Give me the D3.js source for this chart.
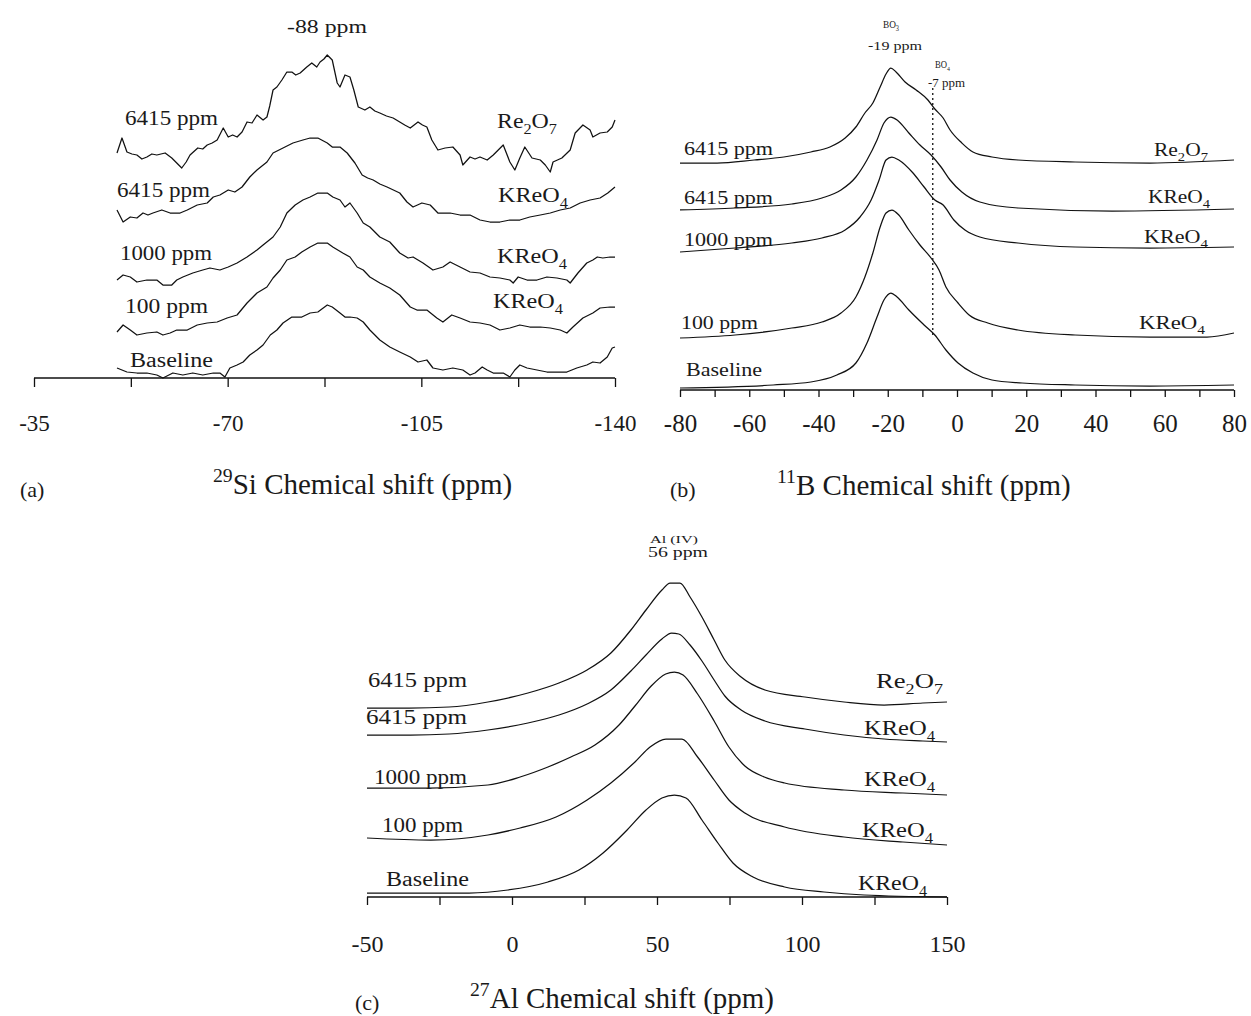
<!DOCTYPE html>
<html><head><meta charset="utf-8">
<script src="https://cdn.jsdelivr.net/npm/d3@7"></script>
<style>body{margin:0;background:#fff}svg{display:block}text{font-family:"Liberation Serif","Times New Roman",serif;fill:#1a1a1a}</style>
</head><body>
<script>
// ---------- DATA ----------
// Panel (a) 29Si spectra: [chemical shift ppm, stacked intensity a.u.]
const siRe2O7_6415 = [[-50.0,225],[-50.9,240],[-51.8,226],[-52.7,224],[-53.6,223],[-54.5,219],[-55.4,221],[-56.3,224],[-57.2,223],[-58.7,225],[-59.9,220],[-60.8,215],[-61.7,210],[-62.5,216],[-63.2,223],[-64.6,230],[-65.5,229],[-66.3,233],[-67.2,235],[-68.1,238],[-69.2,250],[-70.1,241],[-70.9,243],[-71.7,241],[-72.6,246],[-73.5,256],[-74.4,255],[-75.3,263],[-76.4,258],[-77.1,261],[-77.6,272],[-78.2,288],[-78.9,291],[-79.8,298],[-80.7,306],[-81.6,306],[-82.3,303],[-83.1,305],[-84.3,311],[-85.2,315],[-86.1,311],[-86.7,316],[-87.4,319],[-88.0,323],[-88.9,318],[-89.8,295],[-90.3,291],[-91.2,303],[-92.1,301],[-92.8,288],[-93.6,271],[-94.8,268],[-95.7,271],[-96.6,267],[-97.5,265],[-98.7,262],[-99.9,260],[-101.1,256],[-102.0,253],[-103.0,250],[-104.4,256],[-105.2,253],[-106.0,251],[-106.9,238],[-108.0,228],[-109.3,230],[-110.7,231],[-112.0,223],[-112.5,213],[-113.8,221],[-114.7,219],[-115.6,221],[-116.9,218],[-118.0,223],[-119.8,233],[-121.0,216],[-121.9,208],[-122.8,220],[-123.7,231],[-125.0,220],[-126.5,218],[-127.4,213],[-128.3,206],[-128.8,216],[-130.4,220],[-131.9,228],[-132.8,245],[-134.2,253],[-135.5,248],[-136.0,241],[-137.3,245],[-138.6,246],[-139.5,251],[-140.0,258]];
const siKReO4_6415 = [[-50.0,168],[-51.1,156],[-52.4,161],[-53.6,160],[-54.7,165],[-55.6,163],[-56.5,165],[-58.1,168],[-59.6,165],[-61.4,165],[-62.7,168],[-64.5,173],[-66.3,175],[-67.4,181],[-68.6,183],[-70.1,188],[-71.3,186],[-72.6,191],[-74.0,201],[-75.3,208],[-77.1,216],[-78.2,225],[-80.0,230],[-81.8,235],[-83.6,238],[-84.9,240],[-86.3,240],[-88.0,235],[-88.9,231],[-90.3,231],[-91.6,225],[-93.0,215],[-94.3,203],[-95.3,200],[-96.3,198],[-97.5,194],[-98.8,191],[-101.1,185],[-102.4,176],[-103.5,171],[-105.1,175],[-106.6,173],[-108.0,165],[-110.2,165],[-112.0,163],[-113.8,163],[-115.6,158],[-117.4,156],[-119.2,156],[-121.0,158],[-122.8,158],[-124.6,161],[-126.5,163],[-128.3,165],[-130.1,168],[-131.9,170],[-133.7,175],[-135.5,178],[-137.3,180],[-138.7,185],[-140.0,191]];
const siKReO4_1000 = [[-50.0,98],[-51.1,103],[-52.4,101],[-53.6,96],[-55.4,98],[-57.2,98],[-58.3,93],[-59.9,93],[-60.8,98],[-61.9,101],[-63.7,105],[-65.5,108],[-66.8,110],[-68.6,108],[-70.1,111],[-71.7,115],[-73.5,121],[-75.3,128],[-76.4,133],[-78.2,141],[-79.5,151],[-80.7,165],[-82.2,173],[-83.6,178],[-84.9,181],[-86.3,185],[-88.0,185],[-89.0,181],[-90.3,178],[-91.2,171],[-92.1,175],[-93.4,165],[-94.5,155],[-95.7,151],[-97.5,141],[-99.3,136],[-101.1,125],[-102.6,120],[-103.5,121],[-105.3,115],[-107.1,108],[-108.9,111],[-110.2,116],[-112.0,111],[-113.8,106],[-115.6,105],[-117.4,101],[-119.2,100],[-121.0,98],[-121.6,95],[-122.5,101],[-124.1,98],[-125.9,98],[-127.7,101],[-129.5,100],[-131.3,98],[-131.9,95],[-133.3,105],[-134.9,115],[-136.0,118],[-136.8,121],[-137.8,120],[-139.1,121],[-140.0,121]];
const siKReO4_100 = [[-50.0,46],[-51.1,53],[-52.4,48],[-53.6,43],[-55.4,45],[-57.2,46],[-58.3,43],[-59.6,45],[-60.8,48],[-62.7,48],[-64.5,53],[-66.3,55],[-68.1,56],[-69.9,60],[-71.7,63],[-73.5,75],[-75.3,85],[-77.1,91],[-78.2,100],[-79.5,108],[-80.7,118],[-82.2,121],[-83.4,126],[-84.9,131],[-86.3,135],[-88.0,135],[-89.0,131],[-90.8,125],[-92.1,121],[-93.4,111],[-94.5,108],[-95.7,101],[-97.5,95],[-99.3,90],[-101.1,83],[-103.0,71],[-104.2,68],[-106.0,68],[-107.8,60],[-108.9,56],[-110.5,63],[-112.0,60],[-113.8,56],[-115.6,55],[-117.4,53],[-119.2,48],[-121.0,50],[-122.8,53],[-124.6,51],[-126.5,51],[-128.3,50],[-130.1,48],[-131.3,45],[-132.4,51],[-134.2,60],[-136.0,65],[-137.3,70],[-139.1,71],[-140.0,71]];
const siBaseline = [[-50.0,10],[-51.8,6],[-53.6,5],[-55.4,5],[-57.2,3],[-58.3,0],[-60.1,5],[-61.9,3],[-63.7,5],[-65.5,3],[-67.4,5],[-68.6,5],[-69.5,1],[-70.4,10],[-71.7,13],[-72.8,16],[-74.0,23],[-75.3,28],[-76.4,33],[-77.7,43],[-78.9,48],[-80.0,55],[-81.6,61],[-83.4,61],[-84.9,65],[-86.3,66],[-88.0,73],[-88.9,71],[-90.3,65],[-91.2,61],[-92.1,61],[-93.4,60],[-94.5,56],[-95.7,48],[-97.5,38],[-99.3,31],[-101.1,26],[-103.0,21],[-104.4,16],[-106.0,18],[-107.1,10],[-108.9,8],[-110.7,10],[-112.5,8],[-113.8,3],[-114.7,5],[-116.0,11],[-116.9,8],[-118.0,5],[-119.8,5],[-121.0,1],[-121.9,8],[-122.8,13],[-124.1,10],[-125.9,8],[-127.7,6],[-129.5,6],[-131.3,6],[-133.1,10],[-134.9,13],[-136.0,16],[-137.3,15],[-138.6,21],[-139.5,30],[-140.0,31]];

// Panel (b) 11B spectra
const bRe2O7_6415 = [[-80,227],[-69.3,227],[-58.6,230],[-50,233],[-42.2,238],[-36.7,243],[-32.3,252],[-29.2,263],[-26.6,277],[-24.3,287],[-22.2,303],[-20.5,316],[-19.1,322],[-17.6,318],[-15.0,308],[-11.8,300],[-8.4,290],[-6.4,281],[-4.0,272],[-2.0,260],[1.4,247],[4.6,238],[10.1,233],[17.6,230],[34.1,228],[55.7,227],[80,230]];
const bKReO4_6415 = [[-80,180],[-64.1,182],[-47.7,186],[-39.0,192],[-33.5,200],[-29.2,213],[-26.0,230],[-23.1,250],[-21.1,267],[-19.1,273],[-17.3,270],[-13.9,257],[-10.7,245],[-7.5,235],[-4.6,223],[-2.0,210],[1.4,198],[6.6,188],[17.6,182],[44.8,179],[80,181]];
const bKReO4_1000 = [[-80,138],[-64.1,142],[-47.7,147],[-39.0,152],[-32.3,160],[-28.0,173],[-24.8,190],[-22.5,210],[-20.5,230],[-18.8,233],[-16.8,230],[-12.7,217],[-9.5,203],[-6.4,190],[-4.0,185],[-0.9,170],[2.3,160],[6.6,153],[17.6,147],[34.1,143],[55.7,142],[80,143]];
const bKReO4_100 = [[-80,52],[-64.1,55],[-47.7,62],[-39.0,68],[-33.5,77],[-29.2,93],[-26.6,113],[-24.3,137],[-22.2,163],[-20.5,177],[-18.8,180],[-16.8,175],[-13.9,160],[-10.7,145],[-7.5,132],[-5.2,120],[-3.2,103],[0.3,87],[3.5,75],[8.9,67],[17.6,60],[34.1,55],[55.7,53],[72.2,53],[80,57]];
const bBaseline = [[-80,2],[-53.1,5],[-42.2,8],[-34.7,15],[-29.2,27],[-26.0,47],[-23.1,73],[-21.1,90],[-19.1,97],[-17.3,93],[-13.9,80],[-9.5,65],[-6.4,55],[-3.2,40],[0.3,27],[4.6,17],[10.1,10],[18.8,7],[34.1,5],[55.7,4],[80,5]];

// Panel (c) 27Al spectra
const alRe2O7_6415 = [[-50,189],[-35.5,189],[-21.7,190],[-8.3,195],[5.5,204],[16.2,214],[25.9,227],[34.1,244],[41.0,267],[46.2,287],[51.7,307],[54.5,314],[57.9,314],[61.4,300],[65.5,280],[69.7,257],[73.4,237],[79.0,220],[87.2,207],[101.0,200],[114.5,195],[128.3,192],[141.7,194],[150,195]];
const alKReO4_6415 = [[-50,162],[-35,162],[-21.7,163],[-8.3,167],[5.5,174],[16.2,182],[25.9,193],[34.1,207],[41,226],[46.2,242],[51.7,258],[55,264],[57.5,263],[61.4,252],[65.5,236],[69.7,217],[73.4,201],[79,187],[87.2,176],[101,168],[114.5,162],[128.3,158],[141.7,156],[150,155]];
const alKReO4_1000 = [[-50,109],[-28.6,109],[-8.3,112],[2.8,120],[12.4,130],[20.3,140],[28.6,152],[36.9,172],[42.4,191],[48,211],[53,223],[56,225],[59,222],[64,203],[69.7,176],[74.8,150],[80.3,131],[87,120],[94,114],[114.5,107],[134.8,104],[150,102]];
const alKReO4_100 = [[-50,59],[-28,57],[-8.3,62],[2.8,69],[15.2,80],[25.9,97],[34.1,114],[42.4,135],[47.6,150],[53.1,158],[58.6,158],[64,140],[69.7,117],[74.8,97],[80.3,84],[94,70],[114.5,60],[134.8,55],[150,52]];
const alBaseline = [[-50,4],[-14.8,4],[-1.4,7],[12.4,15],[23.1,27],[31.4,44],[39.7,67],[46.2,87],[51.7,99],[56,102],[60,99],[65.5,77],[71,54],[76.2,34],[83.1,20],[94,10],[107.6,5],[121.4,2],[150,0]];

// Tick values and labels
const siTicks = [-35,-52.5,-70,-87.5,-105,-122.5,-140];
const siTickLabels = ["-35","-70","-105","-140"];
const bTicks = [-80,-70,-60,-50,-40,-30,-20,-10,0,10,20,30,40,50,60,70,80];
const bTickLabels = ["-80","-60","-40","-20","0","20","40","60","80"];
const alTicks = [-50,-25,0,25,50,75,100,125,150];
const alTickLabels = ["-50","0","50","100","150"];

// Text labels ("_n" = subscript, "^n" = superscript)
const leftLabels = ["6415 ppm","6415 ppm","1000 ppm","100 ppm","Baseline"];
const siRightLabels = ["Re_2O_7","KReO_4","KReO_4","KReO_4"];
const bRightLabels = ["Re_2O_7","KReO_4","KReO_4","KReO_4"];
const alRightLabels = ["Re_2O_7","KReO_4","KReO_4","KReO_4","KReO_4"];
const titles = ["^29Si Chemical shift (ppm)","^11B Chemical shift (ppm)","^27Al Chemical shift (ppm)"];
const panelTags = ["(a)","(b)","(c)"];
const siPeakNote = ["-88 ppm"];
const bPeakNotes = ["BO_3","-19 ppm","BO_4","-7 ppm"];
const bShoulder = [-7];
const alPeakNotes = ["Al (IV)","56 ppm"];

// ---------- DRAWING ----------
const svg = d3.select("body").append("svg").attr("width",1251).attr("height",1016);
svg.append("rect").attr("width",1251).attr("height",1016).attr("fill","#fff");

function rich(sel, str, fs) {
  const parts = str.split(/(_\d+|\^\d+)/).filter(s => s.length);
  let shift = 0;
  parts.forEach(p => {
    let target = 0, size = fs, t = p;
    if (p[0] === "_") { target = fs*0.28; size = fs*0.68; t = p.slice(1); }
    else if (p[0] === "^") { target = -fs*0.42; size = fs*0.68; t = p.slice(1); }
    sel.append("tspan").attr("dy", target - shift).attr("font-size", size).text(t);
    shift = target;
  });
  return sel;
}
function label(x, y, str, fs, w, anchor) {
  const t = svg.append("text").attr("x", x).attr("y", y).attr("font-size", fs)
    .attr("text-anchor", anchor || "start");
  rich(t, str, fs);
  if (w) t.attr("textLength", w).attr("lengthAdjust", "spacingAndGlyphs");
  return t;
}

function panel(cfg) {
  const x = d3.scaleLinear().domain(cfg.xDomain).range(cfg.xRange);
  const y = d3.scaleLinear().domain([0, 340]).range([cfg.axisY, cfg.axisY - 340]);
  const line = d3.line().x(d => x(d[0])).y(d => y(d[1])).curve(cfg.curve);
  const g = svg.append("g");
  g.selectAll("path.trace").data(cfg.traces).join("path")
    .attr("class","trace").attr("d", line)
    .attr("fill","none").attr("stroke","#111").attr("stroke-width",1.25).attr("stroke-linejoin","round");
  const axis = d3.axisBottom(x).tickValues(cfg.ticks).tickSize(cfg.tickSize).tickPadding(cfg.pad)
    .tickFormat(d => cfg.tickLabels.includes(String(d)) ? String(d) : "");
  const ag = g.append("g").attr("transform", `translate(0,${cfg.axisY})`).call(axis);
  ag.select(".domain").attr("stroke","#111").attr("stroke-width",1.4).attr("d", `M${cfg.xRange[0]},0H${cfg.xRange[1]}`);
  ag.selectAll(".tick line").attr("stroke","#111").attr("stroke-width",1.3);
  ag.selectAll(".tick text").attr("font-size", cfg.tickFont).attr("fill","#1a1a1a")
    .style("font-family",'"Liberation Serif","Times New Roman",serif');
  return {x, y};
}

// Panel (a)
panel({xDomain:[-35,-140], xRange:[34,615], axisY:378, curve:d3.curveLinear,
  traces:[siRe2O7_6415, siKReO4_6415, siKReO4_1000, siKReO4_100, siBaseline],
  ticks:siTicks, tickLabels:siTickLabels, tickSize:9, pad:28, tickFont:23});
[[125,125,93],[117,197,93],[120,260,92],[125,313,83],[130,367,83]].forEach((p,i)=>label(p[0],p[1],leftLabels[i],20,p[2]));
[[497,128,60],[498,202,70],[497,263,70],[493,308,70]].forEach((p,i)=>label(p[0],p[1],siRightLabels[i],20,p[2]));
label(287,33,siPeakNote[0],19,80);

// Panel (b)
const pb = panel({xDomain:[-80,80], xRange:[680,1234], axisY:390, curve:d3.curveMonotoneX,
  traces:[bRe2O7_6415, bKReO4_6415, bKReO4_1000, bKReO4_100, bBaseline],
  ticks:bTicks, tickLabels:bTickLabels, tickSize:7, pad:17, tickFont:25});
svg.append("line").attr("x1", pb.x(bShoulder[0])).attr("x2", pb.x(bShoulder[0]))
  .attr("y1", pb.y(302)).attr("y2", pb.y(52))
  .attr("stroke","#111").attr("stroke-width",1.3).attr("stroke-dasharray","2,3");
[[684,155,89],[684,204,89],[684,246,89],[681,329,77],[686,376,76]].forEach((p,i)=>label(p[0],p[1],leftLabels[i],19,p[2]));
[[1154,156,54],[1148,203,62],[1144,243,64],[1139,329,66]].forEach((p,i)=>label(p[0],p[1],bRightLabels[i],19,p[2]));
label(883,28,bPeakNotes[0],11,16);
label(868,50,bPeakNotes[1],13,54);
label(935,68,bPeakNotes[2],10,15);
label(928,87,bPeakNotes[3],13,37);

// Panel (c)
panel({xDomain:[-50,150], xRange:[367,947], axisY:897, curve:d3.curveMonotoneX,
  traces:[alRe2O7_6415, alKReO4_6415, alKReO4_1000, alKReO4_100, alBaseline],
  ticks:alTicks, tickLabels:alTickLabels, tickSize:8, pad:30, tickFont:24});
[[368,687,99],[366,724,101],[374,784,93],[382,832,81],[386,886,83]].forEach((p,i)=>label(p[0],p[1],leftLabels[i],20,p[2]));
[[876,688,67],[864,735,71],[864,786,71],[862,837,71],[858,890,69]].forEach((p,i)=>label(p[0],p[1],alRightLabels[i],20,p[2]));
label(650,543,alPeakNotes[0],11,48);
label(648,557,alPeakNotes[1],14,60);

// Titles and panel tags
label(213,494,titles[0],29,null);
label(20,497,panelTags[0],22,null);
label(777,495,titles[1],29,null);
label(670,497,panelTags[1],22,null);
label(470,1008,titles[2],29,null);
label(355,1010,panelTags[2],22,null);
</script>
</body></html>
